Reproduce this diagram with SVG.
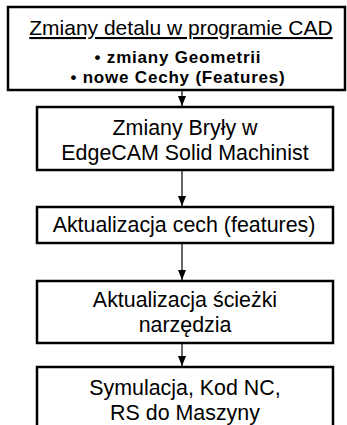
<svg xmlns="http://www.w3.org/2000/svg" width="347" height="425" viewBox="0 0 347 425">
<defs>
<marker id="ah" viewBox="0 0 10 8" refX="10" refY="4" markerWidth="10" markerHeight="9" markerUnits="userSpaceOnUse" orient="auto">
<path d="M0,0 L10,4 L0,8 Z" fill="#000"/>
</marker>
</defs>
<style>
.box{fill:#fff;stroke:#000;stroke-width:2.5}
.t{font-family:"Liberation Sans",Arial,sans-serif;font-size:21.4px;fill:#000;text-anchor:middle}
.h{font-size:21px}
.b{font-weight:bold;font-size:17px;letter-spacing:0.8px}
.c{stroke:#333;stroke-width:1.5;fill:none;marker-end:url(#ah)}
</style>
<rect width="347" height="425" fill="#fff"/>
<g id="connectors">
<line class="c" x1="182" y1="90" x2="182" y2="106"/>
<line class="c" x1="182" y1="170" x2="182" y2="206"/>
<line class="c" x1="182" y1="243" x2="182" y2="280"/>
<line class="c" x1="182" y1="343" x2="182" y2="366"/>
</g>
<g id="n1">
<rect class="box" x="8" y="7" width="337" height="83"/>
<text class="t h" x="181" y="35" text-decoration="underline">Zmiany detalu w programie CAD</text>
<text class="t b" x="178" y="63">• zmiany Geometrii</text>
<text class="t b" x="178" y="83">• nowe Cechy (Features)</text>
</g>
<g id="n2">
<rect class="box" x="37" y="107" width="296" height="63"/>
<text class="t" x="185" y="135">Zmiany Bryły w</text>
<text class="t" x="185" y="160">EdgeCAM Solid Machinist</text>
</g>
<g id="n3">
<rect class="box" x="37" y="207" width="296" height="36"/>
<text class="t" x="184" y="232">Aktualizacja cech (features)</text>
</g>
<g id="n4">
<rect class="box" x="37" y="281" width="296" height="62"/>
<text class="t" x="185" y="307">Aktualizacja ścieżki</text>
<text class="t" x="185" y="332">narzędzia</text>
</g>
<g id="n5">
<rect class="box" x="37" y="367" width="296" height="64"/>
<text class="t" x="185" y="395">Symulacja, Kod NC,</text>
<text class="t" x="185" y="420">RS do Maszyny</text>
</g>
</svg>
